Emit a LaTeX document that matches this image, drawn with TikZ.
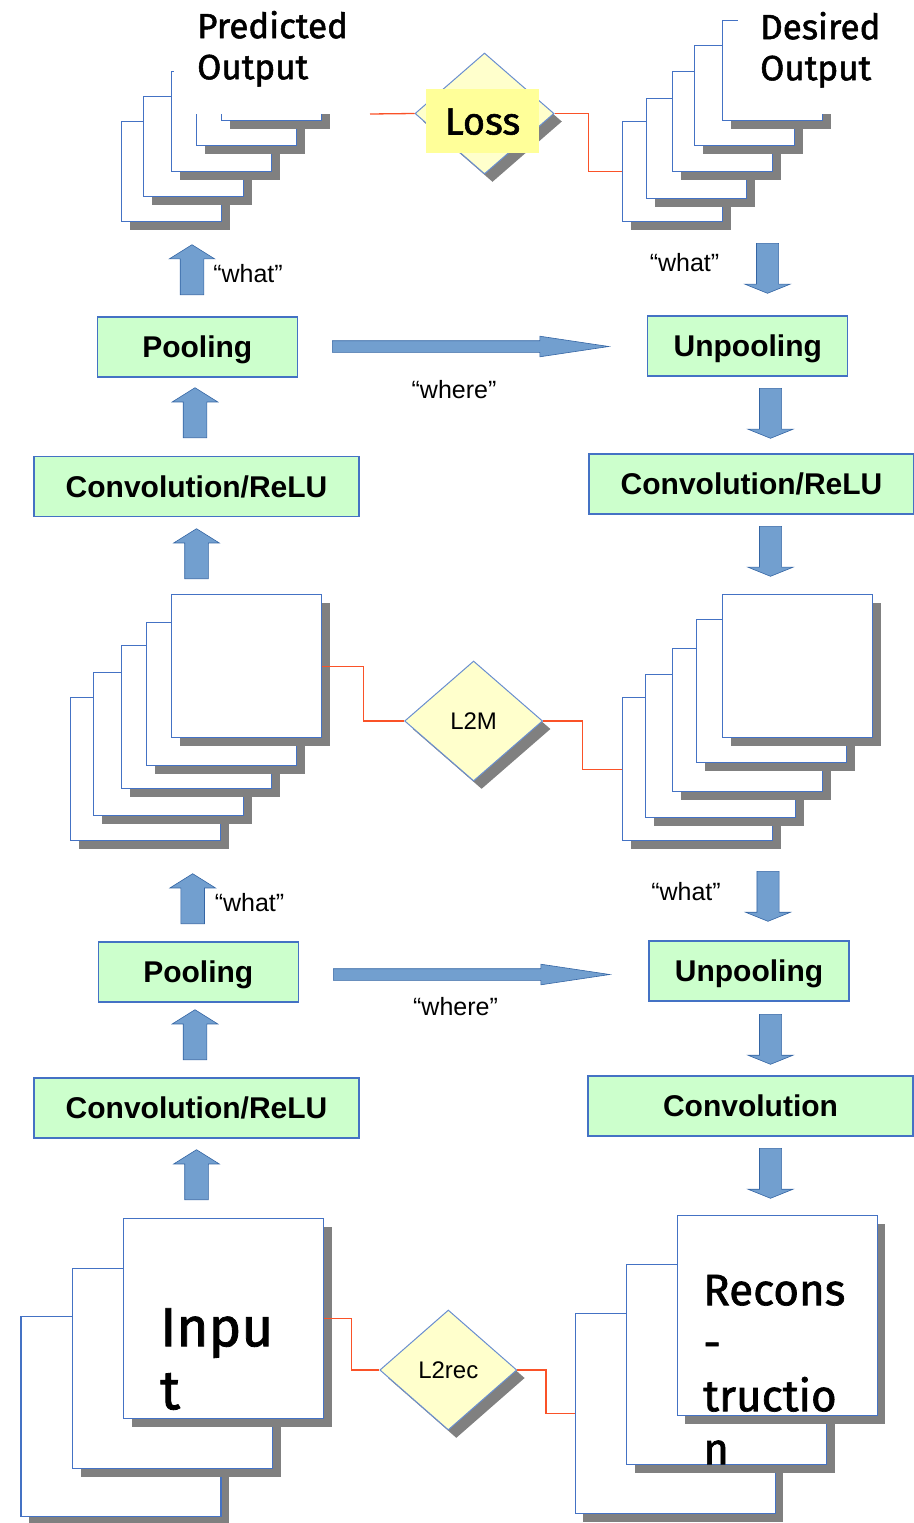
\documentclass[tikz,border=0pt]{standalone}
\usepackage{fontspec}
\setmainfont{Liberation Sans}
\newfontfamily\handfont[FakeBold=1.5]{Fira Sans}
\usepackage{tikz}
\usetikzlibrary{positioning,calc,shapes.geometric,shapes.arrows,shadows}
\definecolor{edgeblue}{RGB}{68,114,196}
\definecolor{boxgreen}{RGB}{204,255,204}
\definecolor{arrowblue}{RGB}{114,159,207}
\definecolor{arrowedge}{RGB}{52,101,164}
\definecolor{paleyellow}{RGB}{255,255,204}
\definecolor{lossyellow}{RGB}{255,255,153}
\definecolor{lossred}{RGB}{250,82,40}
\definecolor{shadowgray}{RGB}{128,128,128}

\begin{document}
\begin{tikzpicture}[x=1pt, y=-1pt,
    dropsh/.style={drop shadow={shadow xshift=8pt, shadow yshift=-8pt, fill=shadowgray, opacity=1}},
    sheet/.style={draw=edgeblue, line width=1.3pt, fill=white, inner sep=0pt, anchor=north west, dropsh},
    smallsheet/.style={sheet, minimum width=100pt, minimum height=100pt},
    midsheet/.style={sheet, minimum width=150pt, minimum height=143pt},
    bigsheet/.style={sheet, minimum width=200pt, minimum height=200pt},
    box/.style={draw=edgeblue, line width=1.3pt, fill=boxgreen, minimum height=60pt, inner sep=0pt,
                font=\fontsize{30}{36}\selectfont\bfseries, text height=21pt, text depth=0pt},
    check/.style={diamond, draw=edgeblue!80, line width=1pt, fill=paleyellow, inner sep=0pt,
                  minimum width=138pt, minimum height=120pt, dropsh,
                  font=\fontsize{24}{28}\selectfont, text height=17pt, text depth=0pt},
    uparr/.style={single arrow, draw=arrowedge, line width=0.6pt, fill=arrowblue, inner xsep=0pt,
                  inner ysep=11.5pt, single arrow head extend=11pt, minimum height=50pt,
                  single arrow tip angle=116, rotate=90, anchor=tail},
    downarr/.style={single arrow, draw=arrowedge, line width=0.6pt, fill=arrowblue, inner xsep=0pt,
                    inner ysep=10.75pt, single arrow head extend=11.5pt, minimum height=50pt,
                    single arrow tip angle=136, rotate=-90, anchor=tail},
    passarr/.style={single arrow, draw=arrowedge, line width=0.6pt, fill=arrowblue, inner xsep=0pt,
                    inner ysep=5.5pt, single arrow head extend=4.5pt, minimum height=276.5pt,
                    single arrow tip angle=17, anchor=tail},
    whatlbl/.style={font=\fontsize{25}{30}\selectfont, text height=18pt, text depth=0pt, inner sep=0pt},
    titletxt/.style={font=\handfont\fontsize{35}{41}\selectfont, align=left, inner ysep=0pt, anchor=north west},
    lossline/.style={draw=lossred, line width=1.3pt}
  ]
    \useasboundingbox (0,0) rectangle (913,1523);

    \node[smallsheet] (pred1) at (121,121) {};
    \node[smallsheet] (pred2) at (143,96) {};
    \node[smallsheet] (pred3) at (171,71) {};
    \node[smallsheet] (pred4) at (196,45) {};
    \node[smallsheet] (pred5) at (221,20) {};
    \node[titletxt, fill=white, inner xsep=23pt, text width=170pt, text height=38pt, text depth=76pt] (predtxt) at (174,0) {Predicted\\Output};

    \node[smallsheet] (des1) at (622,121) {};
    \node[smallsheet] (des2) at (646,98) {};
    \node[smallsheet] (des3) at (672,71) {};
    \node[smallsheet] (des4) at (694,45) {};
    \node[smallsheet] (des5) at (722,20) {};
    \node[titletxt, fill=white, inner xsep=22pt, text width=160pt, text height=39pt, text depth=75pt] (destxt) at (738,0) {Desired\\Output};

    \node[check, minimum width=139pt, minimum height=121pt] (loss) at (484.5,113.5) {};
    \node[fill=lossyellow, minimum width=113pt, minimum height=64pt, inner sep=0pt,
          font=\handfont\fontsize{38}{46}\selectfont, text height=27pt, text depth=0pt] (losstxt) at (482.5,121) {Loss};
    \coordinate (lossin) at (370,114);
    \draw[lossline] (lossin) -- (loss.west);
    \draw[lossline] (loss.east) -| ($(loss.east)!0.5!(des1.west)$) |- (des1.west);

    \node[uparr] (up1) at (192,295) {};
    \node[whatlbl] (what1) at (248,273.5) {“what”};
    \node[downarr] (down1) at (767.5,243) {};
    \node[whatlbl] (what2) at (684.5,262.5) {“what”};
    \node[box, minimum width=200pt] (pool1) at (197.25,347) {Pooling};
    \node[passarr] (pass1) at (332,346.5) {};
    \node[whatlbl] (where1) at (454,389) {“where”};
    \node[box, minimum width=200pt] (unpool1) at (747.75,346) {Unpooling};
    \node[uparr] (up2) at (195,438) {};
    \node[downarr] (down2) at (770.5,388) {};
    \node[box, minimum width=325pt] (convA) at (196.5,486.5) {Convolution/ReLU};
    \node[box, minimum width=325pt] (convB) at (751.5,484) {Convolution/ReLU};
    \node[uparr] (up3) at (196.5,579) {};
    \node[downarr] (down3) at (770.5,526) {};

    \node[midsheet] (enc1) at (70,697) {};
    \node[midsheet] (enc2) at (93,672) {};
    \node[midsheet] (enc3) at (121,645) {};
    \node[midsheet] (enc4) at (146,622) {};
    \node[midsheet] (enc5) at (171,594) {};
    \node[midsheet] (dec1) at (622,697) {};
    \node[midsheet] (dec2) at (645,674) {};
    \node[midsheet] (dec3) at (672,648) {};
    \node[midsheet] (dec4) at (696,619) {};
    \node[midsheet] (dec5) at (722,594) {};
    \node[check] (ltwom) at (473.6,721) {L2M};
    \draw[lossline] (enc5.east) -| ($(enc5.east)!0.5!(ltwom.west)$) |- (ltwom.west);
    \draw[lossline] (ltwom.east) -| ($(ltwom.east)!0.5!(dec1.west)$) |- (dec1.west);

    \node[uparr] (up4) at (192.7,924) {};
    \node[whatlbl] (what3) at (249.5,902.5) {“what”};
    \node[downarr] (down4) at (768,871) {};
    \node[whatlbl] (what4) at (686,891) {“what”};
    \node[box, minimum width=200pt] (pool2) at (198.3,972) {Pooling};
    \node[passarr] (pass2) at (333,974.5) {};
    \node[whatlbl] (where2) at (455.5,1006.5) {“where”};
    \node[box, minimum width=200pt] (unpool2) at (749,971) {Unpooling};
    \node[uparr] (up5) at (195,1060) {};
    \node[downarr] (down5) at (770.5,1014) {};
    \node[box, minimum width=325pt] (convC) at (196.5,1108) {Convolution/ReLU};
    \node[box, minimum width=325pt] (convD) at (750.5,1106) {Convolution};
    \node[uparr] (up6) at (196.5,1200) {};
    \node[downarr] (down6) at (770.5,1148) {};

    \node[bigsheet] (in1) at (20.4,1316) {};
    \node[bigsheet] (in2) at (72,1268) {};
    \node[bigsheet] (in3) at (123,1218) {};
    \node[bigsheet] (rec1) at (574.7,1313) {};
    \node[bigsheet] (rec2) at (626,1264) {};
    \node[bigsheet] (rec3) at (676.6,1215) {};
    \node[check, minimum width=137pt] (ltworec) at (448.3,1370) {L2rec};
    \draw[lossline] (in3.east) -| ($(in3.east)!0.5!(ltworec.west)$) |- (ltworec.west);
    \draw[lossline] (ltworec.east) -| ($(ltworec.east)!0.5!(rec1.west)$) |- (rec1.west);
    \node[titletxt, font=\handfont\fontsize{55}{63}\selectfont, inner sep=0pt, text width=160pt, text height=40pt] (inputtxt) at (160,1306) {Inpu\\t};
    \node[titletxt, font=\handfont\fontsize{44}{53}\selectfont, inner sep=0pt, text width=170pt, text height=32pt] (rectxt) at (703,1273) {Recons\\-\\tructio\\n};
  \end{tikzpicture}
\end{document}
